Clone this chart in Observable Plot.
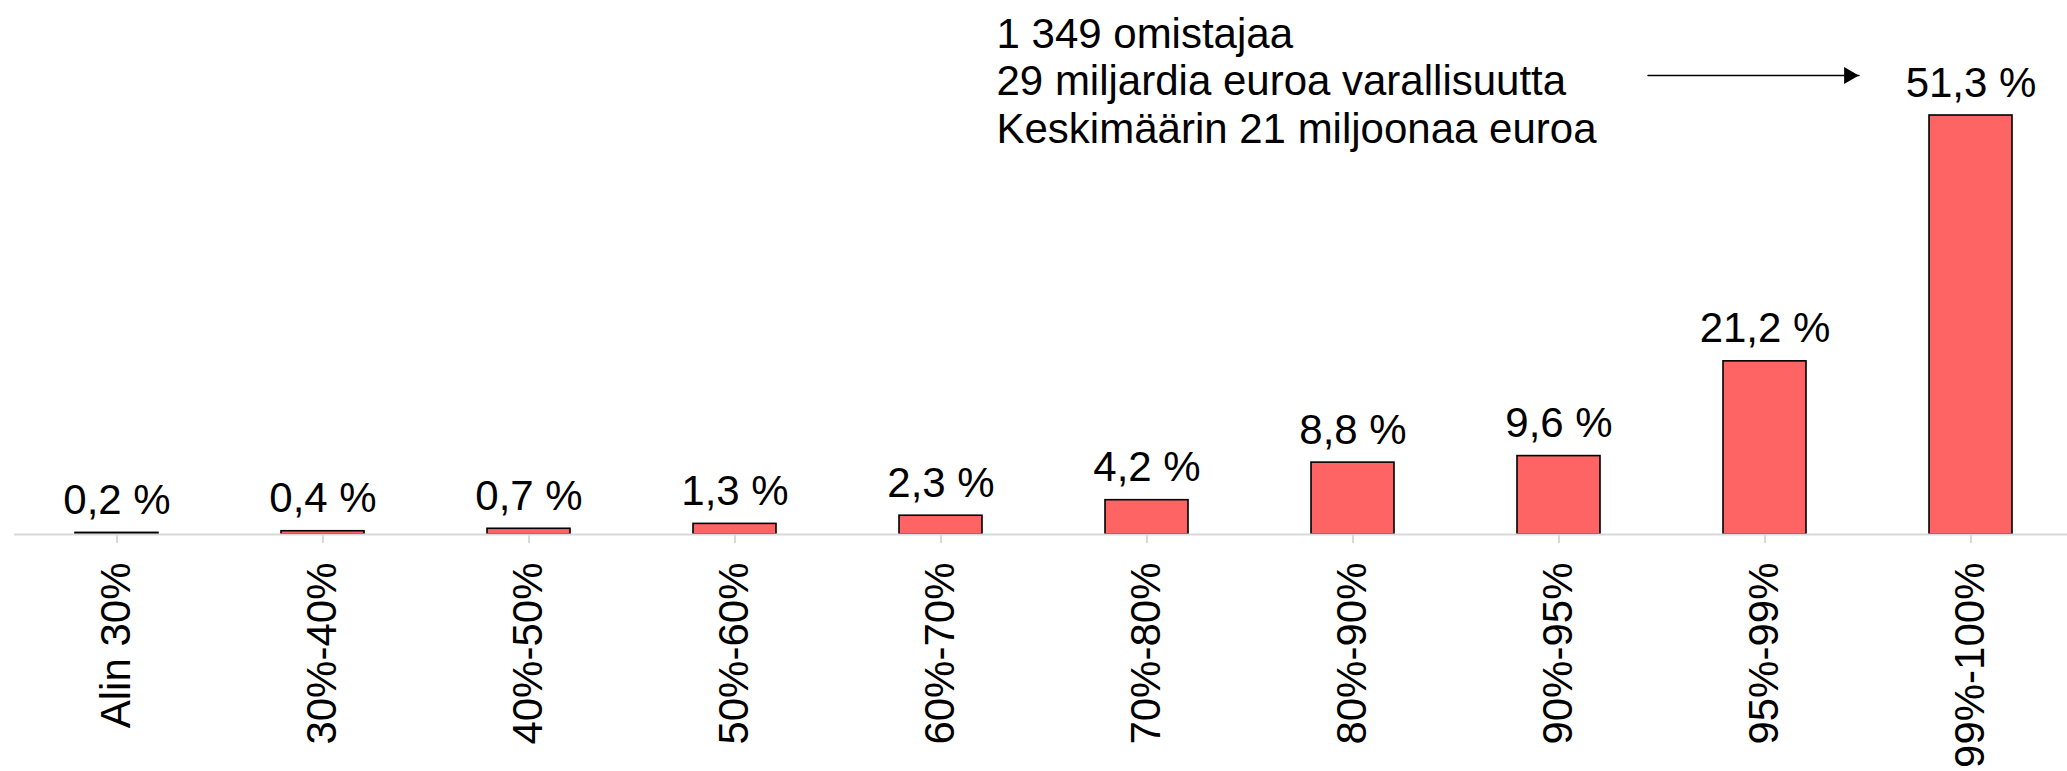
<!DOCTYPE html>
<html><head><meta charset="utf-8">
<script src="https://cdn.jsdelivr.net/npm/d3@7"></script>
<script src="https://cdn.jsdelivr.net/npm/@observablehq/plot@0.6"></script>
<style>body{margin:0;background:#fff} svg{display:block}</style>
</head><body><div id="chart"></div>
<script>
const categories = ["Alin 30%","30%-40%","40%-50%","50%-60%","60%-70%","70%-80%","80%-90%","90%-95%","95%-99%","99%-100%"];
const shares = [0.2,0.4,0.7,1.3,2.3,4.2,8.8,9.6,21.2,51.3];
const shareLabels = ["0,2 %","0,4 %","0,7 %","1,3 %","2,3 %","4,2 %","8,8 %","9,6 %","21,2 %","51,3 %"];
const annotationLines = ["1 349 omistajaa","29 miljardia euroa varallisuutta","Keskimäärin 21 miljoonaa euroa"];
const arrowFrom = ["90%-95%"];
const arrowTo = ["99%-100%"];

const data = categories.map((c, i) => ({category: c, share: shares[i], label: shareLabels[i]}));
const arrowY = 56.19;

const chart = Plot.plot({
  width: 2067, height: 771,
  marginTop: 0, marginBottom: 237, marginLeft: 14, marginRight: -7,
  style: {fontFamily: "'Liberation Sans', Arial, sans-serif", background: "white", color: "black"},
  x: {domain: categories, paddingInner: 0.597, paddingOuter: 0.2985, label: null},
  y: {domain: [0, 65.38], axis: null},
  marks: [
    Plot.barY(data, {x: "category", y: "share", fill: "#ff6464", stroke: "black", strokeWidth: 1.6}),
    Plot.ruleY([0], {stroke: "#d9d9d9", strokeWidth: 2}),
    Plot.axisX({tickSize: 9, tickPadding: 19, tickRotate: -90, fontSize: 42, stroke: "#d9d9d9", strokeWidth: 2, fill: "black", label: null}),
    Plot.text(data, {x: "category", y: "share", text: "label", dy: -19, lineAnchor: "bottom", fontSize: 42, fill: "black"}),
    Plot.text([annotationLines.join("\n")], {frameAnchor: "top-left", dx: 982, dy: 13.5, lineAnchor: "top", textAnchor: "start", fontSize: 42, lineHeight: 1.13, fill: "black"}),
    Plot.arrow([0], {x1: () => arrowFrom[0], x2: () => arrowTo[0], y1: () => arrowY, y2: () => arrowY, insetStart: 89, insetEnd: 112, headLength: 0, stroke: "black", strokeWidth: 1.5}),
    Plot.dot([0], {x: () => arrowTo[0], y: () => arrowY, dx: -122, symbol: "triangle", r: 6.3, rotate: 90, fill: "black", stroke: "none"})
  ]
});
document.getElementById("chart").append(chart);
</script>
</body></html>
